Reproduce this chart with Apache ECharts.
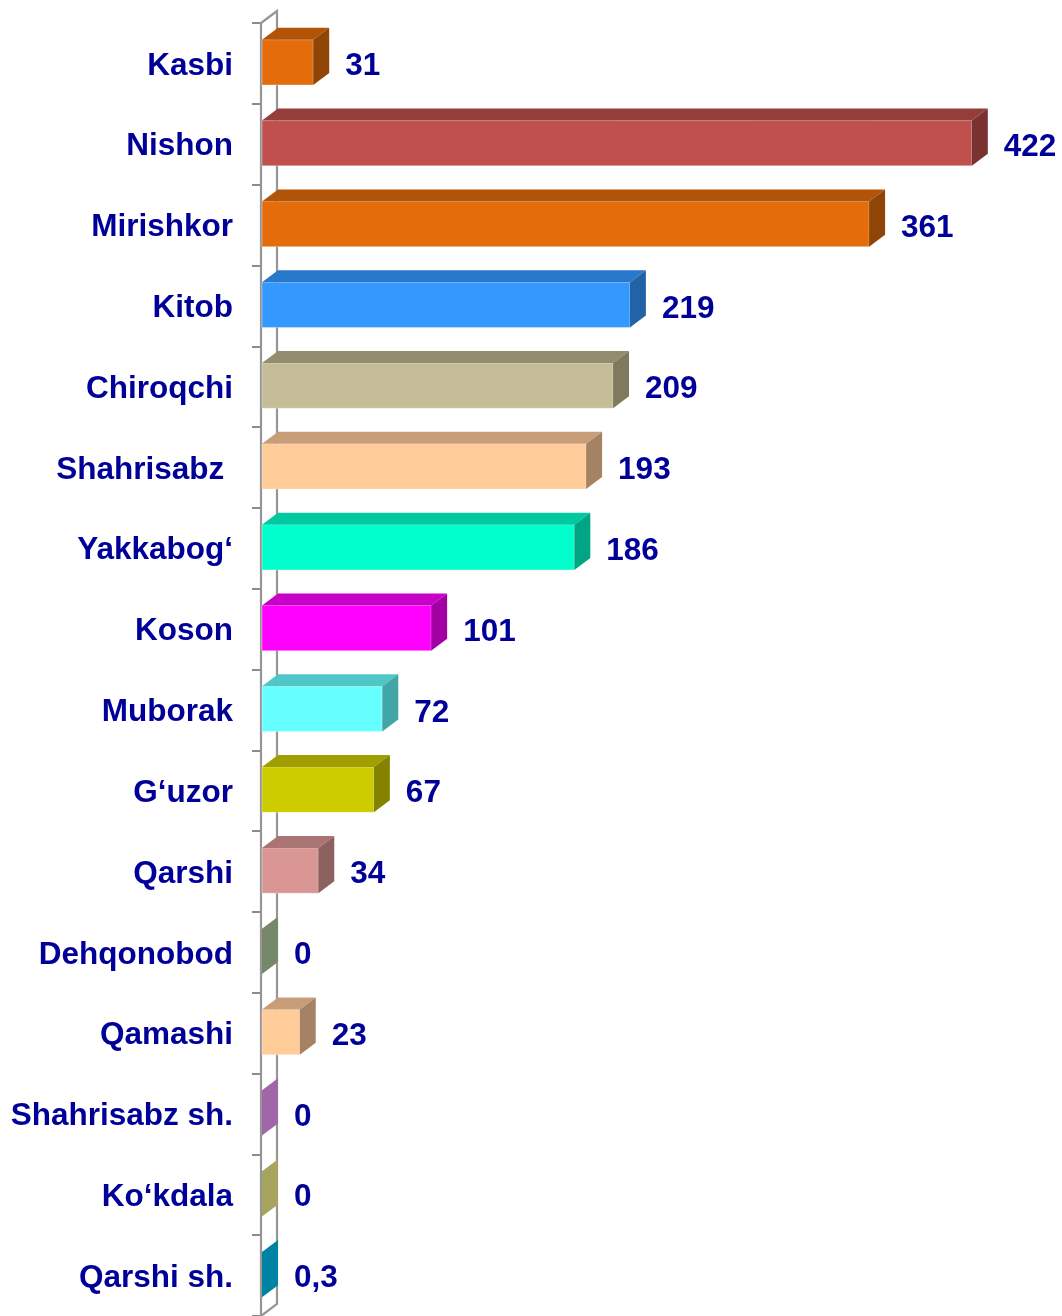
<!DOCTYPE html>
<html>
<head>
<meta charset="utf-8">
<style>
  html, body { margin: 0; padding: 0; background: #ffffff; }
  #chart { width: 1062px; height: 1316px; }
</style>
<script src="https://cdn.jsdelivr.net/npm/echarts@6/dist/echarts.min.js"></script>
</head>
<body>
<div id="chart"></div>
<script>
// Districts, top to bottom
const districts = [
  'Kasbi', 'Nishon', 'Mirishkor', 'Kitob', 'Chiroqchi', 'Shahrisabz ',
  'Yakkabog‘', 'Koson', 'Muborak', 'G‘uzor', 'Qarshi', 'Dehqonobod',
  'Qamashi', 'Shahrisabz sh.', 'Ko‘kdala', 'Qarshi sh.'
];

// Value per district
const values = [31, 422, 361, 219, 209, 193, 186, 101, 72, 67, 34, 0, 23, 0, 0, 0.3];

// Face colours of each 3D bar: front, top and right side
const frontColors = [
  '#E46C0A', '#C0504D', '#E46C0A', '#3399FF', '#C4BD97', '#FFCC99',
  '#00FFCC', '#FF00FF', '#66FFFF', '#CCCC00', '#D99694', '#9CB084',
  '#FFCC99', '#C88ACC', '#C8C880', '#00A0C8'
];
const topColors = [
  '#B25408', '#943D3B', '#B25408', '#2878CC', '#948C6E', '#C89E78',
  '#00C8A0', '#C800C8', '#50C6C6', '#A09E00', '#A97473', '#86967A',
  '#C89E78', '#A870AC', '#B0B070', '#0090B0'
];
const sideColors = [
  '#8E4506', '#7A3230', '#8E4506', '#2262A6', '#7F7A5E', '#A68264',
  '#00A584', '#A300A3', '#42A6A6', '#838300', '#8D6160', '#77886A',
  '#A68264', '#A066A8', '#A5A560', '#0082A2'
];

const DEPTH_X = 16;
const DEPTH_Y = 12;
const LABEL_COLOR = '#000099';
const FONT = '"Liberation Sans", Arial, sans-serif';
const FONT_SIZE = 31.5;

const chart = echarts.init(document.getElementById('chart'), null, { renderer: 'canvas' });

function formatValue(v) {
  return String(v).replace('.', ',');
}

// Wall of the category axis, drawn as a thin 3D slab
function renderWall(params, api) {
  const cs = params.coordSys;
  const x0 = cs.x, yT = cs.y, yB = cs.y + cs.height;
  return {
    type: 'polygon',
    shape: {
      points: [[x0, yT], [x0 + DEPTH_X, yT - DEPTH_Y], [x0 + DEPTH_X, yB - DEPTH_Y], [x0, yB]]
    },
    style: { fill: '#ffffff', stroke: '#969696', lineWidth: 2.2 },
    z2: 0
  };
}

// One 3D bar: front rectangle, top and side faces, value and category labels
function renderBar(params, api) {
  const v = api.value(0);
  const c = api.value(1);
  const i = params.dataIndex;
  const base = api.coord([0, c]);
  const end = api.coord([v, c]);
  const band = api.size([0, 1])[1];
  const h = band * 0.56;
  const yTop = base[1] - 1 - h / 2;
  const yBot = yTop + h;
  const x0 = base[0] + 1;
  const x1 = Math.max(end[0], x0);
  const children = [];
  if (x1 - x0 > 0.01) {
    children.push({
      type: 'rect',
      shape: { x: x0, y: yTop, width: x1 - x0, height: h },
      style: { fill: frontColors[i], stroke: 'rgba(255,255,255,0.35)', lineWidth: 1 }
    });
    children.push({
      type: 'polygon',
      shape: { points: [[x0, yTop], [x0 + DEPTH_X, yTop - DEPTH_Y], [x1 + DEPTH_X, yTop - DEPTH_Y], [x1, yTop]] },
      style: { fill: topColors[i] }
    });
  }
  children.push({
    type: 'polygon',
    shape: { points: [[x1, yTop], [x1 + DEPTH_X, yTop - DEPTH_Y], [x1 + DEPTH_X, yBot - DEPTH_Y], [x1, yBot]] },
    style: { fill: sideColors[i] }
  });
  children.push({
    type: 'text',
    style: {
      x: x1 + DEPTH_X + 16,
      y: base[1] + 3,
      text: formatValue(v),
      fill: LABEL_COLOR,
      font: 'bold ' + FONT_SIZE + 'px ' + FONT,
      textAlign: 'left',
      textVerticalAlign: 'middle'
    }
  });
  children.push({
    type: 'text',
    style: {
      x: base[0] - 28,
      y: base[1] + 2.5,
      text: districts[c],
      fill: LABEL_COLOR,
      font: 'bold ' + FONT_SIZE + 'px ' + FONT,
      textAlign: 'right',
      textVerticalAlign: 'middle'
    }
  });
  return { type: 'group', children: children };
}

const option = {
  backgroundColor: '#ffffff',
  animation: false,
  grid: { left: 261, right: 43, top: 23, bottom: 0, containLabel: false },
  xAxis: {
    type: 'value',
    min: 0,
    max: 450,
    show: false
  },
  yAxis: {
    type: 'category',
    data: districts,
    inverse: true,
    axisLine: { show: false },
    axisTick: { show: true, length: 9, lineStyle: { color: '#8c8c8c', width: 2 } },
    splitLine: { show: false },
    axisLabel: { show: false }
  },
  series: [
    {
      type: 'custom',
      renderItem: renderWall,
      data: [[0, 0]],
      encode: { x: 0, y: 1 },
      z: 1,
      silent: true
    },
    {
      type: 'custom',
      renderItem: renderBar,
      data: values.map((v, i) => [v, i]),
      encode: { x: 0, y: 1 },
      z: 2
    }
  ]
};

chart.setOption(option);
</script>
</body>
</html>
